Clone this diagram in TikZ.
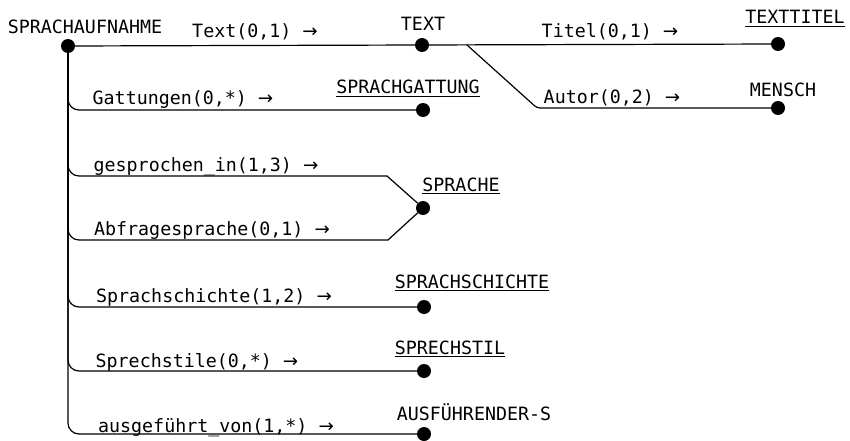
\documentclass[tikz,border=0pt]{standalone}
\usepackage{fontspec}
\newfontfamily\plotfont{DejaVu Sans Mono}
\newfontfamily\pfeilfont{DejaVu Sans}
\newcommand{\pfeil}{{\pfeilfont →}}
\usetikzlibrary{calc}

\tikzset{
	punkt/.style={circle,fill=black,inner sep=0pt,minimum size=14pt},
	entitaet/.style={font=\plotfont\fontsize{18.3}{20}\selectfont,anchor=base,inner xsep=0pt,inner ysep=2.5pt},
	beziehung/.style={font=\plotfont\fontsize{18.3}{20}\selectfont,anchor=base,inner sep=0pt},
	linie/.style={line width=1.2pt,line cap=round,rounded corners=11pt}
}

\begin{document}
\begin{tikzpicture}[x=1pt,y=-1pt]
		\useasboundingbox (0,0) rectangle (850,441);

		% Punkte
		\begin{scope}[every node/.style={punkt}]
			\node (wurzel) at (68,46) {};
			\node (textpkt) at (422,45) {};
			\node (titelpkt) at (778,44) {};
			\node (menschpkt) at (778,108) {};
			\node (gattungpkt) at (423,110) {};
			\node (sprachepkt) at (423,208) {};
			\node (schichtpkt) at (424,307) {};
			\node (stilpkt) at (424,371) {};
			\node (ausfpkt) at (424,434) {};
		\end{scope}

		% Entitaeten
		\begin{scope}[every node/.style={entitaet}]
			\node (sprachaufnahme) at (85,34) {SPRACHAUFNAHME};
			\node (text) at (423,31) {TEXT};
			\node (texttitel) at (795,24) {TEXTTITEL};
			\node (mensch) at (783,96) {MENSCH};
			\node (sprachgattung) at (408,94) {SPRACHGATTUNG};
			\node (sprache) at (461,191) {SPRACHE};
			\node (sprachschichte) at (472,288) {SPRACHSCHICHTE};
			\node (sprechstil) at (450,354) {SPRECHSTIL};
			\node (ausfuehrender) at (474,420) {AUSFÜHRENDER-S};
		\end{scope}
		\foreach \n in {texttitel,sprachgattung,sprache,sprachschichte,sprechstil}
			\draw[line width=1pt] (\n.south west) -- (\n.south east);

		% Beziehungen
		\begin{scope}[every node/.style={beziehung}]
			\node (bText) at (255,38) {Text(0,1) \pfeil};
			\node (bTitel) at (610,38) {Titel(0,1) \pfeil};
			\node (bAutor) at (612,103) {Autor(0,2) \pfeil};
			\node (bGattungen) at (183,104) {Gattungen(0,*) \pfeil};
			\node (bGesprochen) at (206,171) {gesprochen\_in(1,3) \pfeil};
			\node (bAbfrage) at (212,235) {Abfragesprache(0,1) \pfeil};
			\node (bSchichte) at (214,302) {Sprachschichte(1,2) \pfeil};
			\node (bStile) at (197,367) {Sprechstile(0,*) \pfeil};
			\node (bAusgefuehrt) at (216,432) {ausgeführt\_von(1,*) \pfeil};
		\end{scope}

		\coordinate (abzweig) at (467,45);
		\coordinate (knickA) at (537,108);
		\coordinate (knickB) at (387,176);
		\coordinate (knickC) at (388,240);

		\begin{scope}[linie]
			\draw (wurzel) -- (textpkt);
			\draw (textpkt) -- (titelpkt);
			\draw[rounded corners=3pt] (abzweig) -- (knickA) -- (menschpkt);
			\draw (wurzel) |- (gattungpkt);
			\draw (wurzel) |- (knickB);
			\draw (knickB) -- (sprachepkt);
			\draw (wurzel) |- (knickC);
			\draw (knickC) -- (sprachepkt);
			\draw (wurzel) |- (schichtpkt);
			\draw (wurzel) |- (stilpkt);
			\draw (wurzel) |- (ausfpkt);
		\end{scope}
	\end{tikzpicture}
\end{document}
